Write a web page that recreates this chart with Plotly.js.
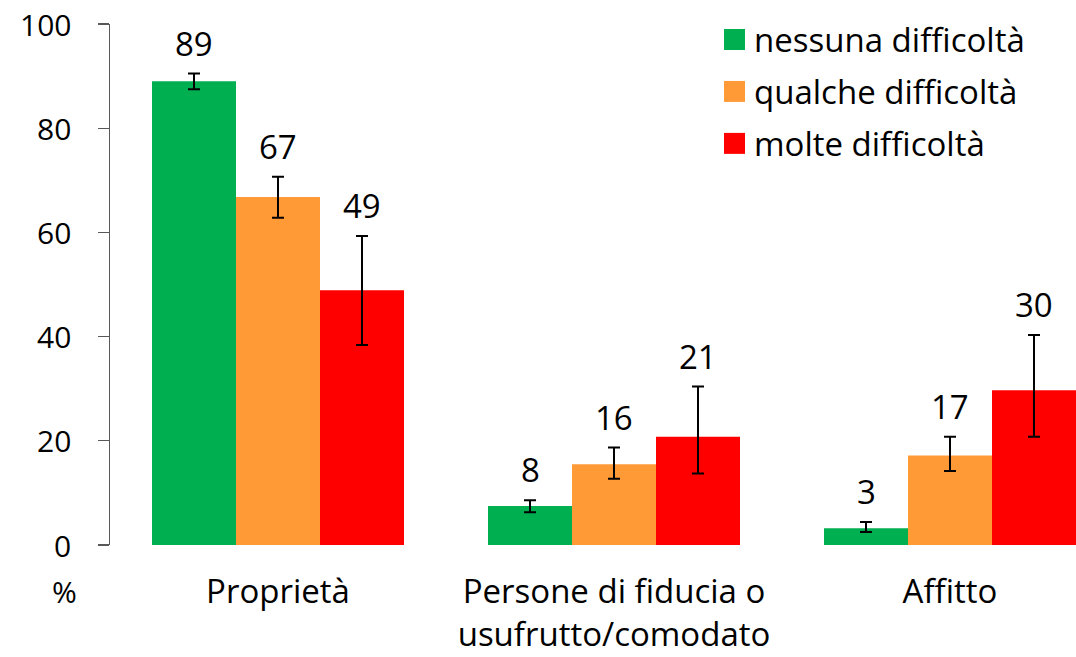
<!DOCTYPE html>
<html>
<head>
<meta charset="utf-8">
<script src="https://cdn.plot.ly/plotly-3.0.1.min.js"></script>
<style>html,body{margin:0;padding:0;background:#fff;}#chart{width:1076px;height:657px;}
svg text{font-variant-ligatures:none;font-feature-settings:"liga" 0;}</style>
</head>
<body>
<div id="chart"></div>
<script>
// ---- data ----
var categories = ["Proprietà", "Persone di fiducia o<br>usufrutto/comodato", "Affitto"];
var seriesNames = ["nessuna difficoltà", "qualche difficoltà", "molte difficoltà"];
var seriesColors = ["#00B050", "#FF9A37", "#FF0000"];
var nessuna = [89.0, 7.5, 3.2];
var qualche = [66.8, 15.5, 17.2];
var molte = [48.9, 20.8, 29.7];
var nessunaHigh = [90.5, 8.6, 4.4];
var nessunaLow = [87.5, 6.3, 2.5];
var qualcheHigh = [70.7, 18.7, 20.8];
var qualcheLow = [62.8, 12.7, 14.2];
var molteHigh = [59.3, 30.4, 40.3];
var molteLow = [38.4, 13.7, 20.8];
var nessunaLabels = ["89", "8", "3"];
var qualcheLabels = ["67", "16", "17"];
var molteLabels = ["49", "21", "30"];
var yTicks = [0, 20, 40, 60, 80, 100];

// ---- build ----
var W = 1076, H = 657;
var mL = 110, mR = 0, mT = 23.5, mB = 112;
var FONT = "'Open Sans', sans-serif";
var values = [nessuna, qualche, molte];
var highs = [nessunaHigh, qualcheHigh, molteHigh];
var lows = [nessunaLow, qualcheLow, molteLow];
var labels = [nessunaLabels, qualcheLabels, molteLabels];
var xIdx = categories.map(function(_, i){ return i; });

var traces = values.map(function(v, k){
  return {
    type: "bar",
    name: seriesNames[k],
    x: xIdx,
    y: v,
    marker: {color: seriesColors[k], line: {width: 0}},
    error_y: {
      type: "data", symmetric: false,
      array: v.map(function(val, i){ return highs[k][i] - val; }),
      arrayminus: v.map(function(val, i){ return val - lows[k][i]; }),
      color: "#000", thickness: 2, width: 6
    },
    showlegend: false,
    hoverinfo: "skip"
  };
});

function px2x(px){ return (px - mL) / (W - mL - mR); }
function py2y(py){ return (H - mB - py) / (H - mT - mB); }

var annotations = [];
var barW = 0.25;
values.forEach(function(v, k){
  v.forEach(function(val, i){
    annotations.push({
      x: i + (k - 1) * barW, y: highs[k][i], xref: "x", yref: "y",
      text: labels[k][i], showarrow: false, yanchor: "bottom", yshift: 6,
      font: {family: FONT, size: 33, color: "#000"}
    });
  });
});
// y tick labels, placed on the axis scale
yTicks.forEach(function(t){
  annotations.push({
    xref: "paper", yref: "y", x: px2x(73), y: t,
    text: String(t), showarrow: false, xanchor: "right", yanchor: "middle",
    font: {family: FONT, size: 30, color: "#000"}
  });
});
annotations.push({
  xref: "paper", yref: "paper", x: px2x(64.5), y: py2y(592),
  text: "%", showarrow: false, xanchor: "center", yanchor: "middle",
  font: {family: FONT, size: 30, color: "#000"}
});

// legend drawn manually for large swatches
var shapes = [];
var legendRows = [39, 91, 143];
seriesNames.forEach(function(n, k){
  var cy = legendRows[k];
  shapes.push({
    type: "rect", xref: "paper", yref: "paper",
    x0: px2x(724), x1: px2x(745), y0: py2y(cy - 10.5), y1: py2y(cy + 10.5),
    fillcolor: seriesColors[k], line: {width: 0}
  });
  annotations.push({
    xref: "paper", yref: "paper", x: px2x(752), y: py2y(cy),
    text: n, showarrow: false, xanchor: "left", yanchor: "middle",
    font: {family: FONT, size: 33, color: "#000"}
  });
});

var layout = {
  width: W, height: H,
  margin: {l: mL, r: mR, t: mT, b: mB, pad: 0},
  paper_bgcolor: "#fff", plot_bgcolor: "#fff",
  barmode: "group", bargap: 0.25, bargroupgap: 0,
  showlegend: false,
  xaxis: {
    type: "linear",
    range: [-0.5, 2.375],
    tickmode: "array", tickvals: xIdx, ticktext: categories,
    showgrid: false, zeroline: false, showline: false, ticks: "",
    ticklabelstandoff: 24,
    tickfont: {family: FONT, size: 33, color: "#000"}
  },
  yaxis: {
    range: [0, 100],
    tickmode: "array", tickvals: yTicks,
    showgrid: false, zeroline: false,
    showline: true, linecolor: "#595959", linewidth: 1.3,
    ticks: "outside", ticklen: 11, tickcolor: "#595959", tickwidth: 1.3,
    showticklabels: false
  },
  annotations: annotations,
  shapes: shapes
};

Plotly.newPlot("chart", traces, layout, {displayModeBar: false, staticPlot: true});
</script>
</body>
</html>
